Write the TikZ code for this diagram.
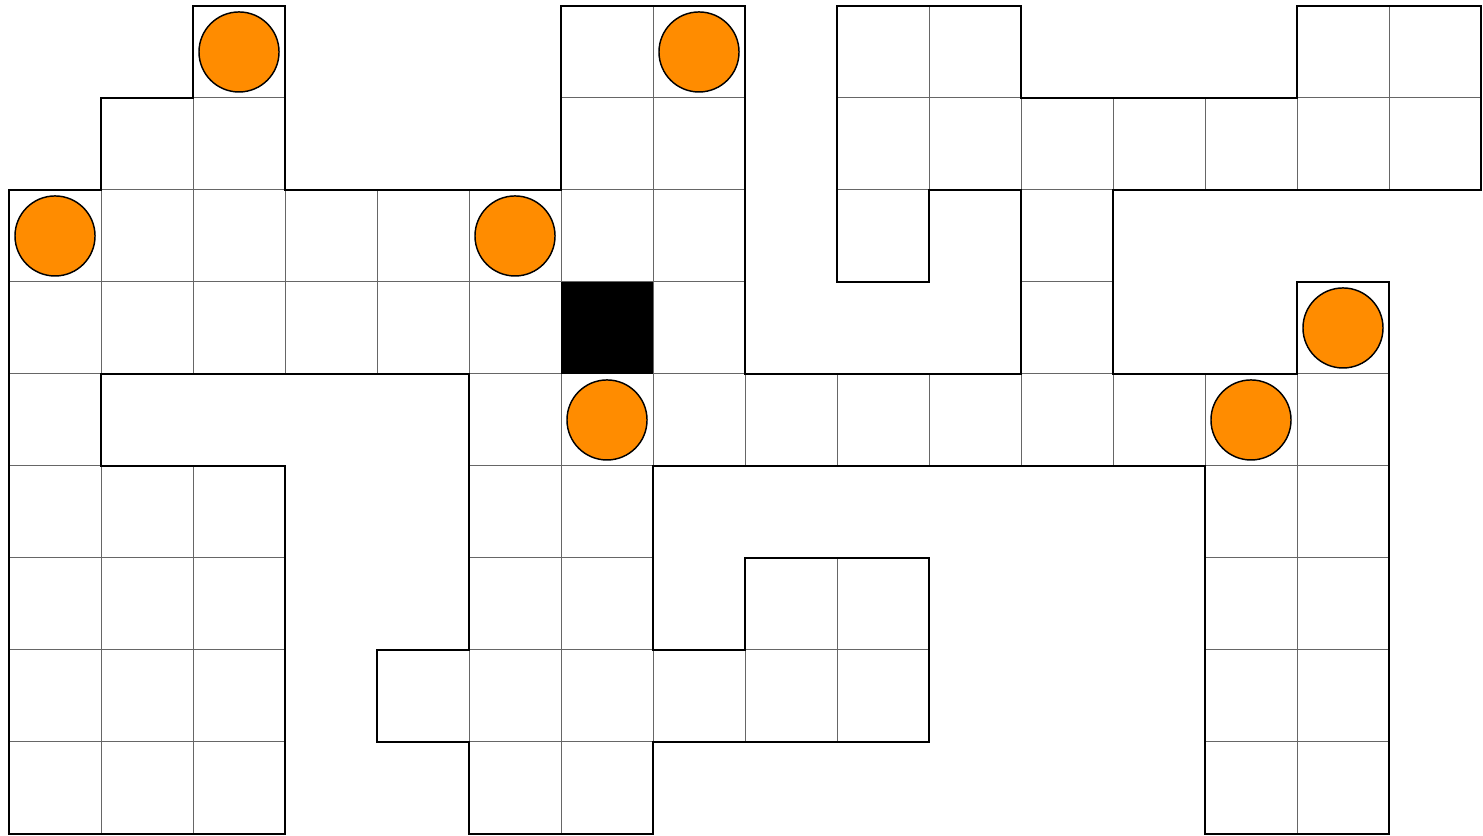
\documentclass[tikz,border=0pt]{standalone}
\begin{document}
\begin{tikzpicture}[x=1cm,y=-1cm,
  cellbox/.style={draw=black!60,line width=0.3pt,fill=white},
  wallline/.style={draw=black,line width=0.8pt,line join=miter},
  token/.style={circle,draw=black,line width=0.45pt,fill={rgb,255:red,255;green,140;blue,0},minimum size=0.87cm,inner sep=0pt},
  blockcell/.style={fill=black}]
\useasboundingbox (-0.098,-0.065) rectangle (16.022,9.022);
% cells: row/column lists
\foreach \c in {2,6,7,9,10,14,15} {\draw[cellbox] (\c,0) rectangle ++(1,1);}
\foreach \c in {1,2,6,7,9,10,11,12,13,14,15} {\draw[cellbox] (\c,1) rectangle ++(1,1);}
\foreach \c in {0,1,2,3,4,5,6,7,9,11} {\draw[cellbox] (\c,2) rectangle ++(1,1);}
\foreach \c in {0,1,2,3,4,5,6,7,11,14} {\draw[cellbox] (\c,3) rectangle ++(1,1);}
\foreach \c in {0,5,6,7,8,9,10,11,12,13,14} {\draw[cellbox] (\c,4) rectangle ++(1,1);}
\foreach \c in {0,1,2,5,6,13,14} {\draw[cellbox] (\c,5) rectangle ++(1,1);}
\foreach \c in {0,1,2,5,6,8,9,13,14} {\draw[cellbox] (\c,6) rectangle ++(1,1);}
\foreach \c in {0,1,2,4,5,6,7,8,9,13,14} {\draw[cellbox] (\c,7) rectangle ++(1,1);}
\foreach \c in {0,1,2,5,6,13,14} {\draw[cellbox] (\c,8) rectangle ++(1,1);}
% blocked cell
\fill[blockcell] (6,3) rectangle (7,4);
% outline
\draw[wallline] (2,0) -- (3,0) -- (3,2) -- (6,2) -- (6,0) -- (8,0) -- (8,4) -- (11,4)
  -- (11,2) -- (10,2) -- (10,3) -- (9,3) -- (9,0) -- (11,0) -- (11,1) -- (14,1)
  -- (14,0) -- (16,0) -- (16,2) -- (12,2) -- (12,4) -- (14,4) -- (14,3) -- (15,3)
  -- (15,9) -- (13,9) -- (13,5) -- (7,5) -- (7,7) -- (8,7) -- (8,6) -- (10,6)
  -- (10,8) -- (7,8) -- (7,9) -- (5,9) -- (5,8) -- (4,8) -- (4,7) -- (5,7)
  -- (5,4) -- (1,4) -- (1,5) -- (3,5) -- (3,9) -- (0,9) -- (0,2) -- (1,2)
  -- (1,1) -- (2,1) -- cycle;
% tokens
\node[token] (t1) at (2.5,0.5) {};
\node[token] (t2) at (7.5,0.5) {};
\node[token] (t3) at (0.5,2.5) {};
\node[token] (t4) at (5.5,2.5) {};
\node[token] (t5) at (14.5,3.5) {};
\node[token] (t6) at (6.5,4.5) {};
\node[token] (t7) at (13.5,4.5) {};
\end{tikzpicture}
\end{document}
